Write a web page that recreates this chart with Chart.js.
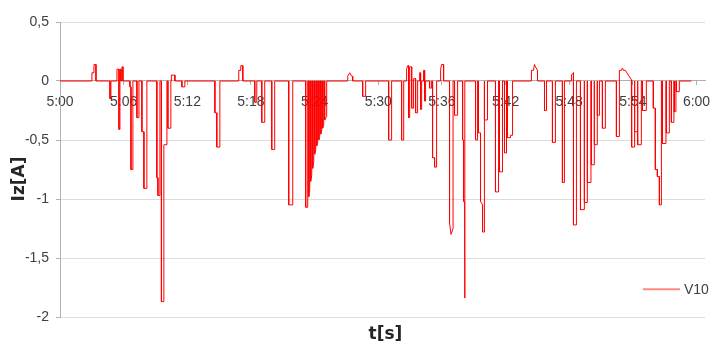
<!DOCTYPE html>
<html>
<head>
<meta charset="utf-8">
<script src="https://cdn.jsdelivr.net/npm/chart.js@4/dist/chart.umd.min.js"></script>
<style>
  html, body { margin: 0; padding: 0; background: #ffffff; }
  #wrap { width: 713px; height: 341px; }
</style>
</head>
<body>
<div id="wrap"><canvas id="chart" width="713" height="341"></canvas></div>
<script>
// Current trace of channel V10, 5:00 – 6:00
const seriesName = 'V10';
const startHour = 5;
const xTitle = 't[s]';
const yTitle = 'Iz[A]';

// x tick positions, minutes after 5:00
const xTickMinutes = [0, 6, 12, 18, 24, 30, 36, 42, 48, 54, 60];
// y tick values, A
const yTickValues = [0.5, 0, -0.5, -1, -1.5, -2];

// trace samples: time in minutes after 5:00 ...
const traceTime = [
  0, 3.01, 3.01, 3.20, 3.20, 3.39, 3.39,
  4.71, 4.71, 4.80, 4.80,
  5.37, 5.37, 5.56, 5.56, 5.65, 5.65, 5.74, 5.74, 5.84, 5.84, 5.93, 5.93,
  6.59, 6.59, 6.69, 6.69, 6.87, 6.87,
  7.25, 7.25, 7.44, 7.44,
  7.72, 7.72, 7.91, 7.91, 8.19, 8.19,
  9.13, 9.13, 9.23, 9.23, 9.42, 9.42,
  9.56, 9.56, 9.79, 9.79, 10.08, 10.08,
  10.17, 10.17, 10.45, 10.45, 10.50, 10.50, 10.83, 10.83,
  11.49, 11.49, 11.77, 11.77,
  14.60, 14.60, 14.78, 14.78, 15.07, 15.07,
  16.85, 16.85, 17.04, 17.04, 17.23, 17.23,
  18.36, 18.36, 18.55, 18.55,
  19.02, 19.02, 19.30, 19.30,
  19.96, 19.96, 20.24, 20.24,
  21.56, 21.56, 21.94, 21.94,
  23.16, 23.16, 23.35, 23.35,
  23.45, 23.45, 23.54, 23.54, 23.63, 23.63, 23.73, 23.73,
  23.82, 23.82, 23.92, 23.92, 24.01, 24.01, 24.11, 24.11,
  24.20, 24.20, 24.29, 24.29, 24.39, 24.39, 24.48, 24.48,
  24.58, 24.58, 24.67, 24.67, 24.76, 24.76, 24.86, 24.86,
  24.95, 24.95, 25.14, 25.14,
  27.12, 27.12, 27.31, 27.50, 27.59, 27.59,
  28.53, 28.53, 28.81, 28.81,
  30.98, 30.98, 31.26, 31.26,
  32.20, 32.20, 32.40, 32.40,
  32.67, 32.67, 32.77, 32.86, 32.86, 32.96, 32.96, 33.15, 33.15, 33.33, 33.33, 33.52,
  33.52, 33.71, 33.71, 33.90, 33.90, 33.99, 33.99, 34.09, 34.09,
  34.27, 34.27, 34.37, 34.37, 34.46, 34.46,
  34.84, 34.84, 35.03, 35.03,
  35.12, 35.12, 35.31, 35.31, 35.50, 35.50,
  35.88, 35.88, 35.97, 36.16, 36.16,
  36.72, 36.72, 36.86, 37.05, 37.05,
  37.19, 37.19, 37.48, 37.48,
  37.95, 37.95, 38.04, 38.04, 38.14, 38.14, 38.17, 38.17,
  39.17, 39.17, 39.36, 39.36,
  39.45, 39.45, 39.64, 39.64, 39.83, 39.83, 39.98, 39.98,
  40.02, 40.02, 40.30, 40.30,
  41.05, 41.05, 41.34, 41.34,
  41.43, 41.43, 41.71, 41.71,
  41.90, 41.90, 42.09, 42.09,
  42.18, 42.18, 42.47, 42.47, 42.66, 42.66,
  44.44, 44.44, 44.63, 44.73, 44.82, 45.01, 45.01,
  45.67, 45.67, 45.86, 45.86,
  46.42, 46.42, 46.70, 46.70,
  47.36, 47.36, 47.55, 47.55,
  48.21, 48.21, 48.40, 48.40, 48.68, 48.68,
  49.06, 49.06, 49.40, 49.40, 49.44, 49.44, 49.68, 49.68,
  49.72, 49.72, 50.05, 50.05, 50.09, 50.09, 50.34, 50.34,
  50.38, 50.38, 50.62, 50.62, 50.66, 50.66, 50.85, 50.85,
  51.13, 51.13, 51.41, 51.41,
  52.45, 52.45, 52.73, 52.73, 52.92, 53.02, 53.11, 53.30, 53.58, 53.86,
  53.86, 53.90, 53.90, 54.14, 54.14, 54.18, 54.18, 54.43, 54.43,
  54.47, 54.47, 54.80, 54.80,
  54.90, 54.90, 55.27, 55.27,
  55.93, 55.93, 56.12, 56.12, 56.31, 56.31, 56.50, 56.50, 56.69, 56.69,
  56.78, 56.78, 57.12, 57.12, 57.16, 57.16, 57.44, 57.44,
  57.63, 57.63, 57.87, 57.87, 57.91, 57.91, 58.06, 58.06,
  58.10, 58.10, 58.38, 58.38, 59.51
];

// ... and current Iz in A, one value per time above
const traceCurrent = [
  0, 0, 0.07, 0.07, 0.14, 0.14, 0,
  0, -0.15, -0.15, 0,
  0, 0.10, 0.10, -0.41, -0.41, 0.10, 0.10, 0, 0, 0.12, 0.12, 0,
  0, -0.05, -0.05, -0.75, -0.75, 0,
  0, -0.31, -0.31, 0,
  0, -0.43, -0.43, -0.91, -0.91, 0,
  0, -0.82, -0.82, -0.97, -0.97, 0,
  0, -1.87, -1.87, -0.54, -0.54, 0,
  0, -0.40, -0.40, 0, 0, 0.05, 0.05, 0,
  0, -0.05, -0.05, 0,
  0, -0.27, -0.27, -0.56, -0.56, 0,
  0, 0.09, 0.09, 0.13, 0.13, 0,
  0, -0.18, -0.18, 0,
  0, -0.35, -0.35, 0,
  0, -0.58, -0.58, 0,
  0, -1.05, -1.05, 0,
  0, -1.07, -1.07, 0,
  0, -0.98, -0.92, 0, 0, -0.85, -0.80, 0,
  0, -0.74, -0.68, 0, 0, -0.62, -0.58, 0,
  0, -0.55, -0.52, 0, 0, -0.50, -0.47, 0,
  0, -0.45, -0.42, 0, 0, -0.40, -0.37, 0,
  0, -0.33, -0.30, 0,
  0, 0.04, 0.07, 0.04, 0.04, 0,
  0, -0.13, -0.13, 0,
  0, -0.50, -0.50, 0,
  0, -0.50, -0.50, 0,
  0, 0.10, 0.13, 0.13, -0.31, -0.31, 0.12, 0.12, -0.23, -0.23, 0.02, 0.02,
  -0.27, -0.27, 0, 0, 0.07, 0.07, -0.24, -0.24, 0,
  0, 0.09, 0.09, -0.17, -0.17, 0,
  0, -0.06, -0.06, 0,
  0, -0.65, -0.65, -0.73, -0.73, 0,
  0, 0.10, 0.14, 0.14, 0,
  0, -1.20, -1.30, -1.25, 0,
  0, -0.29, -0.29, 0,
  0, -0.50, -0.50, -1.02, -1.02, -1.84, -1.84, 0,
  0, -0.50, -0.50, 0,
  0, -0.44, -0.44, -1.02, -1.05, -1.28, -1.28, 0,
  0, -0.33, -0.33, 0,
  0, -0.94, -0.94, 0,
  0, -0.77, -0.77, 0,
  0, -0.61, -0.61, 0,
  0, -0.48, -0.48, -0.46, -0.46, 0,
  0, 0.09, 0.09, 0.14, 0.12, 0.09, 0,
  0, -0.25, -0.25, 0,
  0, -0.52, -0.52, 0,
  0, -0.86, -0.86, 0,
  0, 0.05, 0.07, -1.22, -1.22, 0,
  0, -1.09, -1.09, 0, 0, -1.03, -1.03, 0,
  0, -0.86, -0.86, 0, 0, -0.71, -0.71, 0,
  0, -0.54, -0.54, 0, 0, -0.29, -0.29, 0,
  0, -0.40, -0.40, 0,
  0, -0.47, -0.47, 0.09, 0.09, 0.11, 0.09, 0.09, 0.05, 0.01,
  0, 0, -0.56, -0.56, 0, 0, -0.43, -0.43, 0,
  0, -0.54, -0.54, 0,
  0, -0.25, -0.25, 0,
  0, -0.23, -0.23, -0.75, -0.75, -0.81, -0.81, -1.05, -1.05, 0,
  0, -0.53, -0.53, 0, 0, -0.44, -0.44, 0,
  0, -0.35, -0.35, 0, 0, -0.26, -0.26, 0,
  0, -0.09, -0.09, 0, 0
];

const FONT = '"Liberation Sans", Arial, sans-serif';
const TITLE_FONT = 'bold 17px "DejaVu Sans", sans-serif';
const TEXT = '#404040';
const LINE_RED = '#ff0000';

const points = traceTime.map((t, i) => ({ x: t, y: traceCurrent[i] }));

function clockLabel(min) {
  const h = startHour + Math.floor(min / 60);
  const m = Math.round(min % 60);
  return h + ':' + String(m).padStart(2, '0');
}

// axis titles and the series key
const extras = {
  id: 'extras',
  afterDraw(chart) {
    const { ctx, chartArea, scales } = chart;
    ctx.save();
    ctx.fillStyle = '#262626';
    ctx.font = TITLE_FONT;
    ctx.textAlign = 'center';
    ctx.textBaseline = 'alphabetic';
    ctx.fillText(xTitle, (chartArea.left + chartArea.right) / 2 + 3, 339);

    ctx.save();
    ctx.translate(24, scales.y.getPixelForValue(-0.83));
    ctx.rotate(-Math.PI / 2);
    ctx.fillText(yTitle, 0, 0);
    ctx.restore();

    const ds = chart.data.datasets[0];
    const ky = scales.y.getPixelForValue(-1.765);
    const kx = chartArea.right - 62;
    ctx.strokeStyle = 'rgba(255, 60, 40, 0.6)';
    ctx.lineWidth = 2;
    ctx.beginPath();
    ctx.moveTo(kx, ky);
    ctx.lineTo(kx + 37, ky);
    ctx.stroke();
    ctx.fillStyle = TEXT;
    ctx.font = '14px ' + FONT;
    ctx.textAlign = 'left';
    ctx.textBaseline = 'middle';
    ctx.fillText(ds.label, kx + 41, ky + 1);
    ctx.restore();
  }
};

new Chart(document.getElementById('chart'), {
  type: 'line',
  data: {
    datasets: [{
      label: seriesName,
      data: points,
      borderColor: LINE_RED,
      borderWidth: 1,
      pointRadius: 0,
      tension: 0,
      fill: false
    }]
  },
  options: {
    responsive: false,
    animation: false,
    devicePixelRatio: 1,
    layout: { padding: { top: 22, bottom: 24, left: 0, right: 8 } },
    plugins: {
      legend: { display: false },
      tooltip: { enabled: false }
    },
    scales: {
      x: {
        type: 'linear',
        position: { y: 0 },
        min: 0,
        max: 60.8,
        afterBuildTicks: (axis) => { axis.ticks = xTickMinutes.map(v => ({ value: v })); },
        afterFit: (axis) => { axis.paddingLeft = 0; axis.paddingRight = 0; },
        ticks: {
          callback: (v) => clockLabel(v),
          color: TEXT,
          font: { family: FONT, size: 14 },
          padding: 9,
          maxRotation: 0,
          autoSkip: false
        },
        grid: {
          drawOnChartArea: false,
          drawTicks: true,
          tickLength: 4,
          tickColor: '#b0b0b0'
        },
        border: { display: true, color: '#b0b0b0', width: 1 }
      },
      y: {
        type: 'linear',
        min: -2,
        max: 0.5,
        afterBuildTicks: (axis) => { axis.ticks = yTickValues.map(v => ({ value: v })); },
        afterFit: (axis) => { axis.width = 60; },
        ticks: {
          callback: (v) => String(v).replace('.', ','),
          color: TEXT,
          font: { family: FONT, size: 14 },
          padding: 7
        },
        grid: {
          color: '#dcdcdc',
          lineWidth: 1,
          tickLength: 4,
          tickColor: '#b0b0b0'
        },
        border: { display: true, color: '#b0b0b0', width: 1 }
      }
    }
  },
  plugins: [extras]
});
</script>
</body>
</html>
